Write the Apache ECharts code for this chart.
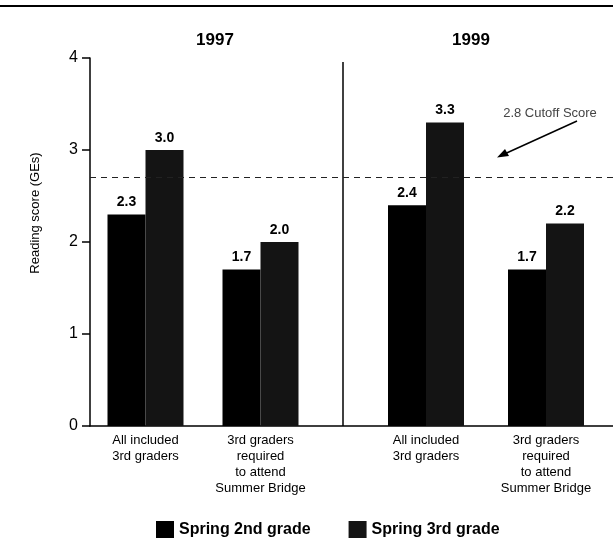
<!DOCTYPE html>
<html>
<head>
<meta charset="utf-8">
<script src="https://cdn.jsdelivr.net/npm/echarts@6/dist/echarts.min.js"></script>
<style>html,body{margin:0;padding:0;background:#fff}#c{width:613px;height:553px}</style>
</head>
<body>
<div id="c"></div>
<script>
const categories = ['All included\n3rd graders', '3rd graders\nrequired\nto attend\nSummer Bridge'];
const panels = ['1997', '1999'];
const spring2nd1997 = [2.3, 1.7];
const spring3rd1997 = [3.0, 2.0];
const spring2nd1999 = [2.4, 1.7];
const spring3rd1999 = [3.3, 2.2];
const cutoffValue = 2.7;
const cutoffText = '2.8 Cutoff Score';
const seriesNames = ['Spring 2nd grade', 'Spring 3rd grade'];
const yTicks = [0, 1, 2, 3, 4];

const FONT = '"Liberation Sans", Arial, sans-serif';
const chart = echarts.init(document.getElementById('c'), null, {renderer: 'canvas'});

const TOP = 58, BOTTOM = 127;
const c2 = '#000000', c3 = '#141414';

function barSeries(name, data, idx, color) {
  return {
    name, type: 'bar', xAxisIndex: idx, yAxisIndex: idx, data,
    barWidth: 38, barGap: '0%',
    itemStyle: {color},
    label: {show: true, position: 'top', distance: 5, fontFamily: FONT, fontWeight: 'bold', fontSize: 14, color: '#000',
      formatter: p => p.value.toFixed(1)}
  };
}

const hiddenY = {type: 'value', min: 0, max: 4, interval: 1, show: false};
const catX = idx => ({
  type: 'category', gridIndex: idx, data: categories,
  axisLine: {show: false}, axisTick: {show: false},
  axisLabel: {fontFamily: FONT, fontSize: 13, color: '#000', lineHeight: 16, margin: 6, interval: 0}
});

const option = {
  animation: false,
  backgroundColor: '#fff',
  grid: [
    {left: 90, right: 0, top: TOP, bottom: BOTTOM},
    {left: 88, width: 230, top: TOP, bottom: BOTTOM},
    {left: 366, width: 240, top: TOP, bottom: BOTTOM}
  ],
  xAxis: [
    {type: 'category', gridIndex: 0, data: [''], axisLine: {lineStyle: {color: '#000', width: 1.5}}, axisTick: {show: false}, axisLabel: {show: false}},
    catX(1), catX(2)
  ],
  yAxis: [
    {type: 'value', gridIndex: 0, min: 0, max: 4, interval: 1,
      axisLine: {show: true, lineStyle: {color: '#000', width: 1.5}},
      axisTick: {show: true, length: 8, lineStyle: {color: '#000', width: 1.5}},
      axisLabel: {fontFamily: FONT, fontSize: 16, color: '#000', margin: 12, formatter: v => yTicks.includes(v) ? String(v) : ''},
      splitLine: {show: false}},
    Object.assign({gridIndex: 1}, hiddenY),
    Object.assign({gridIndex: 2}, hiddenY)
  ],
  legend: {
    bottom: 10, left: 151, itemWidth: 18, itemHeight: 17, itemGap: 38,
    textStyle: {fontFamily: FONT, fontWeight: 'bold', fontSize: 16, color: '#000'},
    data: seriesNames.map((n, i) => ({name: n, icon: 'rect', itemStyle: {color: i ? c3 : c2}}))
  },
  series: [
    {type: 'line', xAxisIndex: 0, yAxisIndex: 0, data: [], silent: true,
      markLine: {silent: true, symbol: ['none', 'none'], label: {show: false},
        lineStyle: {type: [6, 5], color: '#222', width: 1},
        data: [{yAxis: cutoffValue}]}},
    barSeries(seriesNames[0], spring2nd1997, 1, c2),
    barSeries(seriesNames[1], spring3rd1997, 1, c3),
    barSeries(seriesNames[0], spring2nd1999, 2, c2),
    barSeries(seriesNames[1], spring3rd1999, 2, c3)
  ],
  graphic: [
    {type: 'line', shape: {x1: 0, y1: 6, x2: 613, y2: 6}, style: {stroke: '#000', lineWidth: 2}},
    {type: 'line', shape: {x1: 343, y1: 62, x2: 343, y2: 426}, style: {stroke: '#000', lineWidth: 1.5}},
    {type: 'text', x: 215, y: 40, style: {text: panels[0], fontFamily: FONT, fontWeight: 'bold', fontSize: 17, fill: '#000', align: 'center', verticalAlign: 'middle'}},
    {type: 'text', x: 471, y: 40, style: {text: panels[1], fontFamily: FONT, fontWeight: 'bold', fontSize: 17, fill: '#000', align: 'center', verticalAlign: 'middle'}},
    {type: 'text', x: 35, y: 213, rotation: Math.PI / 2, style: {text: 'Reading score (GEs)', fontFamily: FONT, fontSize: 13, fill: '#000', align: 'center', verticalAlign: 'middle'}},
    {type: 'text', x: 550, y: 113, style: {text: cutoffText, fontFamily: FONT, fontSize: 13, fill: '#444', align: 'center', verticalAlign: 'middle'}},
    {type: 'line', shape: {x1: 577, y1: 121, x2: 500, y2: 156}, style: {stroke: '#000', lineWidth: 1.5}},
    {type: 'polygon', shape: {points: [[497, 157.5], [505, 149], [509, 156]]}, style: {fill: '#000'}}
  ]
};
chart.setOption(option);
</script>
</body>
</html>
